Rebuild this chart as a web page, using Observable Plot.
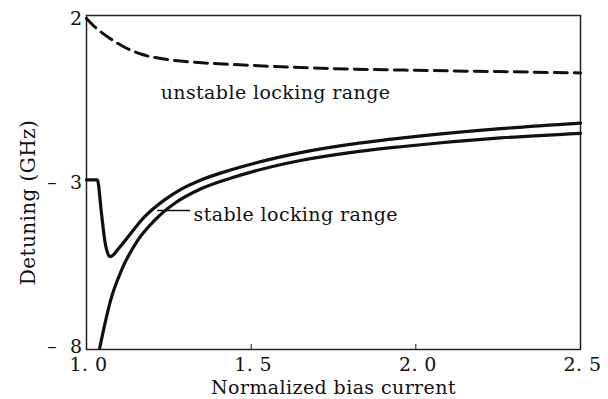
<!DOCTYPE html>
<html><head><meta charset="utf-8">
<script src="https://cdn.jsdelivr.net/npm/d3@7"></script>
<script src="https://cdn.jsdelivr.net/npm/@observablehq/plot@0.6"></script>
<style>body{margin:0;background:#fff} #chart svg text{letter-spacing:0.4px}</style>
</head><body><div id="chart"></div>
<script>
const xTicks = [1.0, 1.5, 2.0, 2.5];
const yTicks = [2, -3, -8];

const unstableX = [1.0, 1.03, 1.07, 1.12, 1.17, 1.25, 1.35, 1.5, 1.75, 2.0, 2.25, 2.5];
const unstableY = [2.0, 1.7, 1.4, 1.1, 0.9, 0.74, 0.65, 0.57, 0.47, 0.42, 0.38, 0.34];

const upperX = [1.0, 1.033, 1.045, 1.056, 1.064, 1.072, 1.082, 1.097, 1.115, 1.176, 1.237, 1.288, 1.346, 1.437, 1.538, 1.65, 1.8, 1.954, 2.257, 2.5];
const upperY = [-2.92, -2.92, -3.9, -4.8, -5.15, -5.26, -5.2, -5.02, -4.8, -4.05, -3.53, -3.2, -2.93, -2.62, -2.34, -2.09, -1.84, -1.65, -1.36, -1.19];

const lowerX = [1.04, 1.056, 1.073, 1.106, 1.155, 1.206, 1.267, 1.346, 1.437, 1.538, 1.65, 1.8, 1.954, 2.257, 2.5];
const lowerY = [-8.05, -7.3, -6.6, -5.68, -4.77, -4.16, -3.64, -3.2, -2.87, -2.58, -2.33, -2.09, -1.91, -1.64, -1.5];

const toRows = (xs, ys) => xs.map((x, i) => ({x, y: ys[i]}));
const unstable = toRows(unstableX, unstableY);
const upper = toRows(upperX, upperY);
const lower = toRows(lowerX, lowerY);

const ink = "#111";
const chart = Plot.plot({
  width: 608, height: 399,
  marginLeft: 86, marginRight: 28, marginTop: 15, marginBottom: 50,
  style: {fontFamily: "DejaVu Serif", background: "#fff", color: ink},
  x: {domain: [1, 2.5]},
  y: {domain: [-8.09, 2.09]},
  marks: [
    Plot.frame({stroke: "#222", strokeWidth: 1.5}),
    Plot.axisX({ticks: xTicks, tickSize: -5, tickFormat: () => "", label: null}),
    Plot.axisX({ticks: xTicks, tickSize: 0, tickPadding: 8, fontSize: 19, dx: 2,
      tickFormat: d => d.toFixed(1).replace(".", ".\u00a0"), label: null}),
    Plot.axisY({ticks: yTicks, tickSize: 0, tickPadding: 4, fontSize: 19,
      tickFormat: d => d < 0 ? "\u2013\u00a0\u00a0" + Math.abs(d) : String(d), label: null}),
    Plot.line(unstable, {x: "x", y: "y", stroke: ink, strokeWidth: 3, strokeDasharray: "13,7", curve: "monotone-x"}),
    Plot.line(upper, {x: "x", y: "y", stroke: ink, strokeWidth: 3.2, curve: "monotone-x"}),
    Plot.line(lower, {x: "x", y: "y", stroke: ink, strokeWidth: 3.2, curve: "monotone-x"}),
    Plot.text(["unstable locking range"], {x: 1.574, y: -0.26, text: d => d, fontSize: 19, fill: ink}),
    Plot.text(["stable locking range"], {x: 1.325, y: -3.98, text: d => d, fontSize: 19, fill: ink, textAnchor: "start"}),
    Plot.ruleY([-3.85], {x1: 1.216, x2: 1.316, stroke: ink, strokeWidth: 1.5}),
    Plot.text(["Detuning (GHz)"], {frameAnchor: "left", rotate: -90, textAnchor: "middle", dx: -58, dy: 20, text: d => d, fontSize: 20, fill: ink}),
    Plot.text(["Normalized bias current"], {frameAnchor: "bottom", lineAnchor: "middle", dy: 38, text: d => d, fontSize: 19, fill: ink})
  ]
});
document.getElementById("chart").appendChild(chart);
</script>
</body></html>
